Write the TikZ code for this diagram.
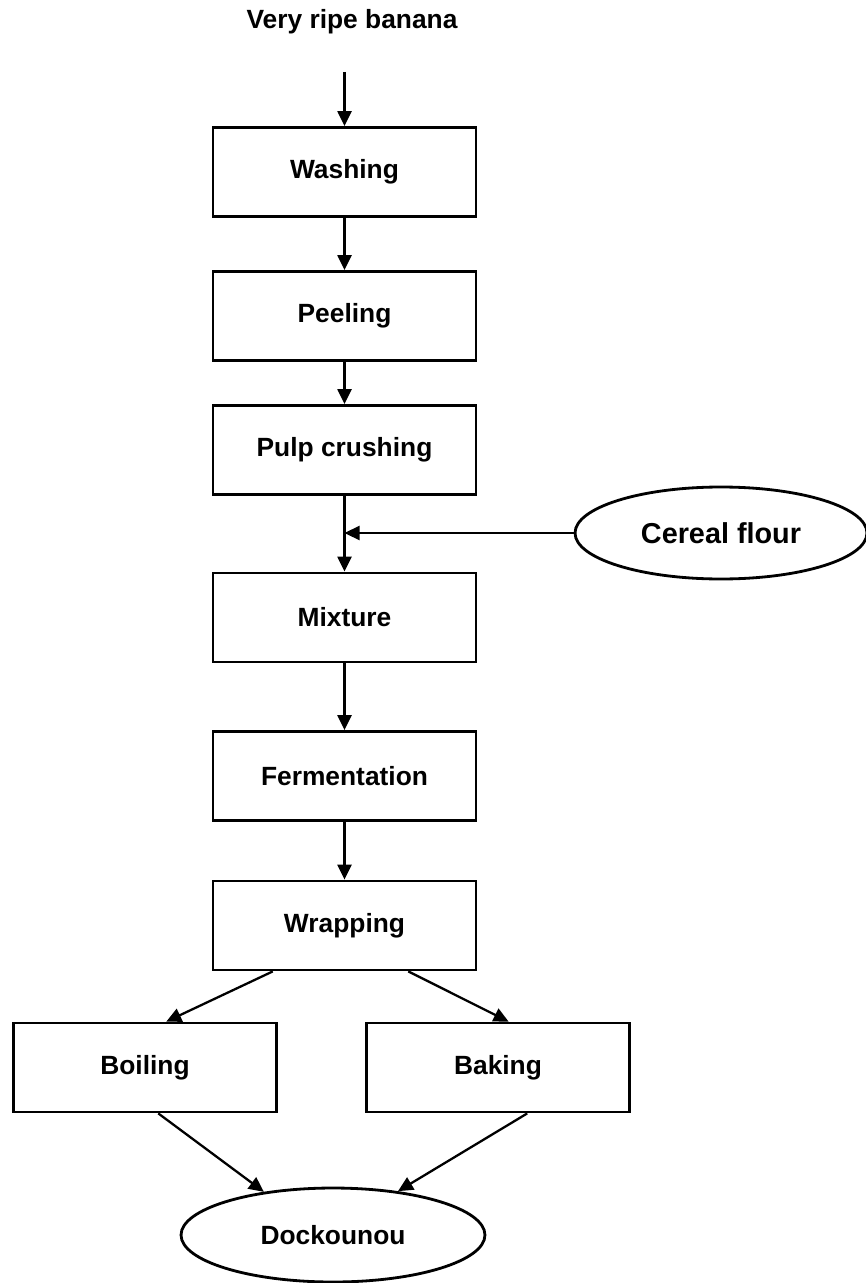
\documentclass[tikz,border=0pt]{standalone}
\usepackage{fontspec}
\setmainfont{Liberation Sans}
\usetikzlibrary{arrows.meta, shapes.geometric, calc}

\begin{document}
\begin{tikzpicture}[x=0.02cm, y=-0.02cm,
        label font/.style={font=\fontsize{15}{18}\selectfont\bfseries},
        stepbox/.style={draw, line width=1.6pt, minimum width=5.26cm, minimum height=1.78cm, inner sep=0pt, label font},
        endpoint/.style={draw, ellipse, line width=1.6pt, inner sep=0pt, label font},
        flow/.style={line width=1.3pt, -{Triangle[length=0.3cm, width=0.28cm]}}]

            \useasboundingbox (0,0) rectangle (865,1283);

            % Raw material
            \node[label font] (banana) at (352,22) {Very ripe banana};
            \coordinate (start) at (344.5,72);

            % Processing steps
            \node[stepbox] (washing) at (344.5,172) {Washing};
            \node[stepbox] (peeling) at (344.5,316) {Peeling};
            \node[stepbox] (crushing) at (344.5,450) {Pulp crushing};
            \node[stepbox] (mixture) at (344.5,617.5) {Mixture};
            \node[stepbox] (fermentation) at (344.5,776) {Fermentation};
            \node[stepbox] (wrapping) at (344.5,925.5) {Wrapping};
            \node[stepbox] (boiling) at (145,1067.5) {Boiling};
            \node[stepbox] (baking) at (498,1067.5) {Baking};

            % Added flour and final product
            \node[endpoint, minimum width=5.84cm, minimum height=1.84cm, font=\fontsize{16.4}{19}\selectfont\bfseries] (flour) at (721,533) {Cereal flour};
            \node[endpoint, minimum width=6.08cm, minimum height=1.88cm] (dockounou) at (333,1235) {Dockounou};

            % Main line
            \draw[flow] (start) -- (washing);
            \draw[flow] (washing) -- (peeling);
            \draw[flow] (peeling) -- (crushing);
            \draw[flow] (crushing) -- (mixture);
            \draw[flow] (flour.west) -- (flour.west -| crushing.south);
            \draw[flow] (mixture) -- (fermentation);
            \draw[flow] (fermentation) -- (wrapping);

            % Cooking
            \draw[flow] ($(wrapping.south west)!0.23!(wrapping.south east)$) -- ($(boiling.north west)!0.58!(boiling.north east)$);
            \draw[flow] ($(wrapping.south west)!0.74!(wrapping.south east)$) -- ($(baking.north west)!0.54!(baking.north east)$);
            \draw[flow] ($(boiling.south west)!0.55!(boiling.south east)$) -- (dockounou.148);
            \draw[flow] ($(baking.south west)!0.61!(baking.south east)$) -- (dockounou.34);
        \end{tikzpicture}
\end{document}
